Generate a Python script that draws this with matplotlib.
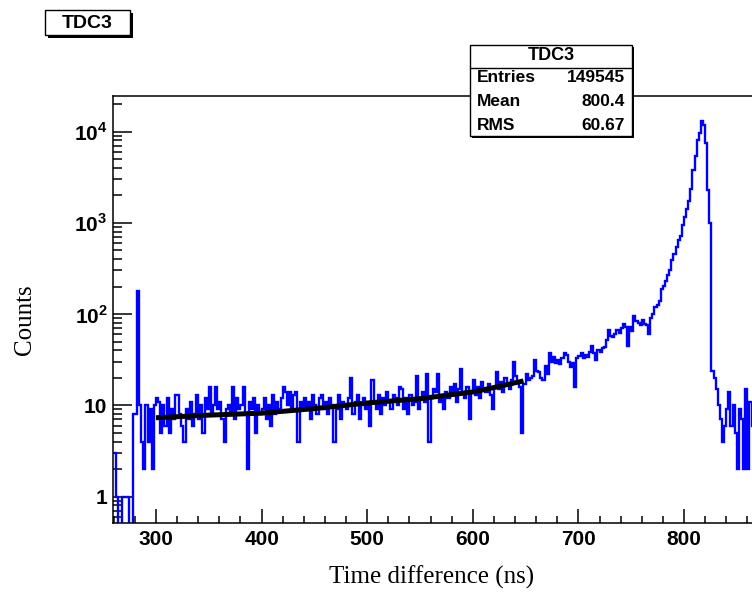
import numpy as np
import matplotlib
matplotlib.use('Agg')
import matplotlib.pyplot as plt
from matplotlib.patches import Rectangle
from matplotlib.ticker import MultipleLocator, LogLocator, FixedLocator, FixedFormatter, NullFormatter

# ── Histogram contents (2 ns bins, first bin starts at 260 ns) ────────────────
BIN_START = 260
BIN_WIDTH = 2

# 260 - 298 ns : empty region, then the prompt spike
counts_front = [3, 1, 0, 0, 1, 1, 1, 0, 0, 8,
                8, 180, 10, 4, 2, 10, 4, 9, 2, 10]

# 300 - 658 ns : flat random background
counts_flat = [12, 11, 5, 10, 6, 12, 5, 9, 7, 13,
               13, 8, 6, 4, 9, 7, 11, 6, 8, 13,
               7, 10, 5, 12, 9, 16, 8, 10, 16, 9,
               11, 7, 4, 9, 10, 8, 16, 7, 12, 9,
               10, 16, 8, 2, 11, 9, 12, 5, 10, 8,
               9, 12, 7, 10, 6, 13, 8, 11, 9, 12,
               16, 14, 10, 14, 9, 13, 14, 4, 11, 9,
               12, 9, 11, 7, 13, 10, 8, 12, 13, 9,
               11, 8, 12, 10, 4, 9, 13, 7, 11, 10,
               9, 12, 20, 8, 11, 13, 7, 10, 12, 9,
               10, 6, 19, 11, 9, 13, 8, 12, 10, 14,
               11, 9, 13, 12, 10, 16, 15, 9, 12, 8,
               13, 10, 11, 21, 9, 12, 14, 11, 22, 4,
               12, 15, 14, 22, 11, 13, 9, 14, 12, 16,
               13, 17, 11, 15, 25, 14, 12, 16, 7, 14,
               19, 13, 16, 12, 18, 15, 14, 17, 13, 9,
               16, 23, 15, 18, 14, 20, 17, 15, 19, 30,
               21, 18, 16, 5, 17, 22, 19, 20, 21, 31]

# 660 - 778 ns : rising shoulder
counts_rise = [24, 23, 20, 19, 27, 22, 37, 30, 34, 29,
               31, 28, 33, 37, 36, 30, 26, 29, 16, 33,
               35, 37, 33, 36, 34, 38, 45, 37, 31, 40,
               38, 42, 44, 52, 66, 58, 56, 60, 66, 62,
               70, 78, 72, 45, 73, 65, 96, 83, 80, 76,
               85, 78, 75, 61, 90, 100, 118, 125, 140, 190]

# 780 - 864 ns : main peak and what follows
counts_peak = [205, 230, 270, 300, 390, 450, 540, 640, 720, 950,
               1150, 1400, 1750, 2350, 3800, 5400, 8000, 9600, 13100, 11900,
               7500, 2300, 1000, 24, 20, 15, 10, 7, 4, 6,
               9, 14, 6, 10, 5, 2, 9, 7, 2, 15,
               2, 11, 6]

# fitted background curve
fit_x = [300, 350, 400, 450, 500, 550, 600, 625, 648]
fit_y = [7.3, 7.8, 8.2, 9.2, 10.6, 11.8, 14.0, 16.1, 18.5]

hist_name = 'TDC3'
stats_labels = ['Entries', 'Mean', 'RMS']
stats_values = ['149545', '800.4', '60.67']

# ── Figure geometry (pixels of the 752x593 canvas) ───────────────────────────
W, H = 752, 593
AX_L, AX_R, AX_T, AX_B = 113, 752, 96, 523


def fx(px):
    return px / W


def fy(py):
    return 1 - py / H


def shadow_box(fig, x0, y0, x1, y1, shadow=2):
    fig.add_artist(Rectangle((fx(x0 + shadow), fy(y1 + shadow)),
                             (x1 - x0) / W, (y1 - y0) / H,
                             transform=fig.transFigure, fc='black', ec='none', zorder=5))
    fig.add_artist(Rectangle((fx(x0), fy(y1)), (x1 - x0) / W, (y1 - y0) / H,
                             transform=fig.transFigure, fc='white', ec='black',
                             lw=1.0, zorder=6))


plt.rcParams['font.family'] = ['Liberation Sans', 'DejaVu Sans']
plt.rcParams['mathtext.fontset'] = 'custom'
plt.rcParams['mathtext.rm'] = 'Liberation Sans:bold'
plt.rcParams['mathtext.bf'] = 'Liberation Sans:bold'

fig = plt.figure(figsize=(W / 100, H / 100), dpi=100)
ax = fig.add_axes([fx(AX_L), fy(AX_B), (AX_R - AX_L) / W, (AX_B - AX_T) / H])

counts = np.array(counts_front + counts_flat + counts_rise + counts_peak, dtype=float)
edges = BIN_START + BIN_WIDTH * np.arange(len(counts) + 1)

ax.set_yscale('log', nonpositive='clip')
ax.stairs(counts, edges, baseline=None, color='#0000ff', lw=1.7, zorder=2)
ax.plot(fit_x, fit_y, color='black', lw=3.6, solid_capstyle='butt', zorder=3)

ax.set_xlim(259.3, 864.4)
ax.set_ylim(0.513, 24500)

# ── Axis styling (ROOT-like) ─────────────────────────────────────────────────
for s in ['left', 'bottom', 'top']:
    ax.spines[s].set_linewidth(1.1)
    ax.spines[s].set_color('black')
ax.spines['right'].set_visible(False)

ax.xaxis.set_major_locator(MultipleLocator(100))
ax.xaxis.set_minor_locator(MultipleLocator(20))
ax.yaxis.set_major_locator(FixedLocator([1, 10, 100, 1000, 10000]))
ax.yaxis.set_major_formatter(FixedFormatter(['1', '10', r'$10^{2}$', r'$10^{3}$', r'$10^{4}$']))
ax.yaxis.set_minor_locator(LogLocator(base=10, subs=np.arange(2, 10), numticks=20))
ax.yaxis.set_minor_formatter(NullFormatter())

ax.tick_params(axis='both', which='both', direction='in', top=False, right=False,
               width=1.1, colors='black')
ax.tick_params(axis='x', which='major', length=10, pad=5)
ax.tick_params(axis='x', which='minor', length=5)
ax.tick_params(axis='y', which='major', length=13.5, pad=4)
ax.tick_params(axis='y', which='minor', length=6.5)
for lab in ax.get_xticklabels() + ax.get_yticklabels():
    lab.set_fontsize(15)
    lab.set_fontweight('bold')

# ── Axis titles ──────────────────────────────────────────────────────────────
fig.text(fx(432), fy(577), 'Time difference (ns)', family='Liberation Serif',
         fontsize=18, ha='center', va='center')
fig.text(fx(25), fy(320), 'Counts', family='Liberation Serif', fontsize=18,
         rotation=90, ha='center', va='center')

# ── Title box ────────────────────────────────────────────────────────────────
shadow_box(fig, 45, 10, 130, 35, shadow=3)
fig.text(fx(87.5), fy(23), hist_name, fontsize=14, weight='bold',
         ha='center', va='center', zorder=7)

# ── Stats box ────────────────────────────────────────────────────────────────
shadow_box(fig, 470, 45, 632, 136, shadow=2)
fig.add_artist(plt.Line2D([fx(470), fx(632)], [fy(68), fy(68)],
                          transform=fig.transFigure, color='black', lw=1.0, zorder=7))
fig.text(fx(551), fy(56), hist_name, fontsize=13, weight='bold',
         ha='center', va='center', zorder=7)
for i, (lab, val) in enumerate(zip(stats_labels, stats_values)):
    yy = 78 + i * 23.5
    fig.text(fx(477), fy(yy), lab, fontsize=12.5, weight='bold',
             ha='left', va='center', zorder=7)
    fig.text(fx(625), fy(yy), val, fontsize=12.5, weight='bold',
             ha='right', va='center', zorder=7)

fig.savefig('out.png', dpi=100)
